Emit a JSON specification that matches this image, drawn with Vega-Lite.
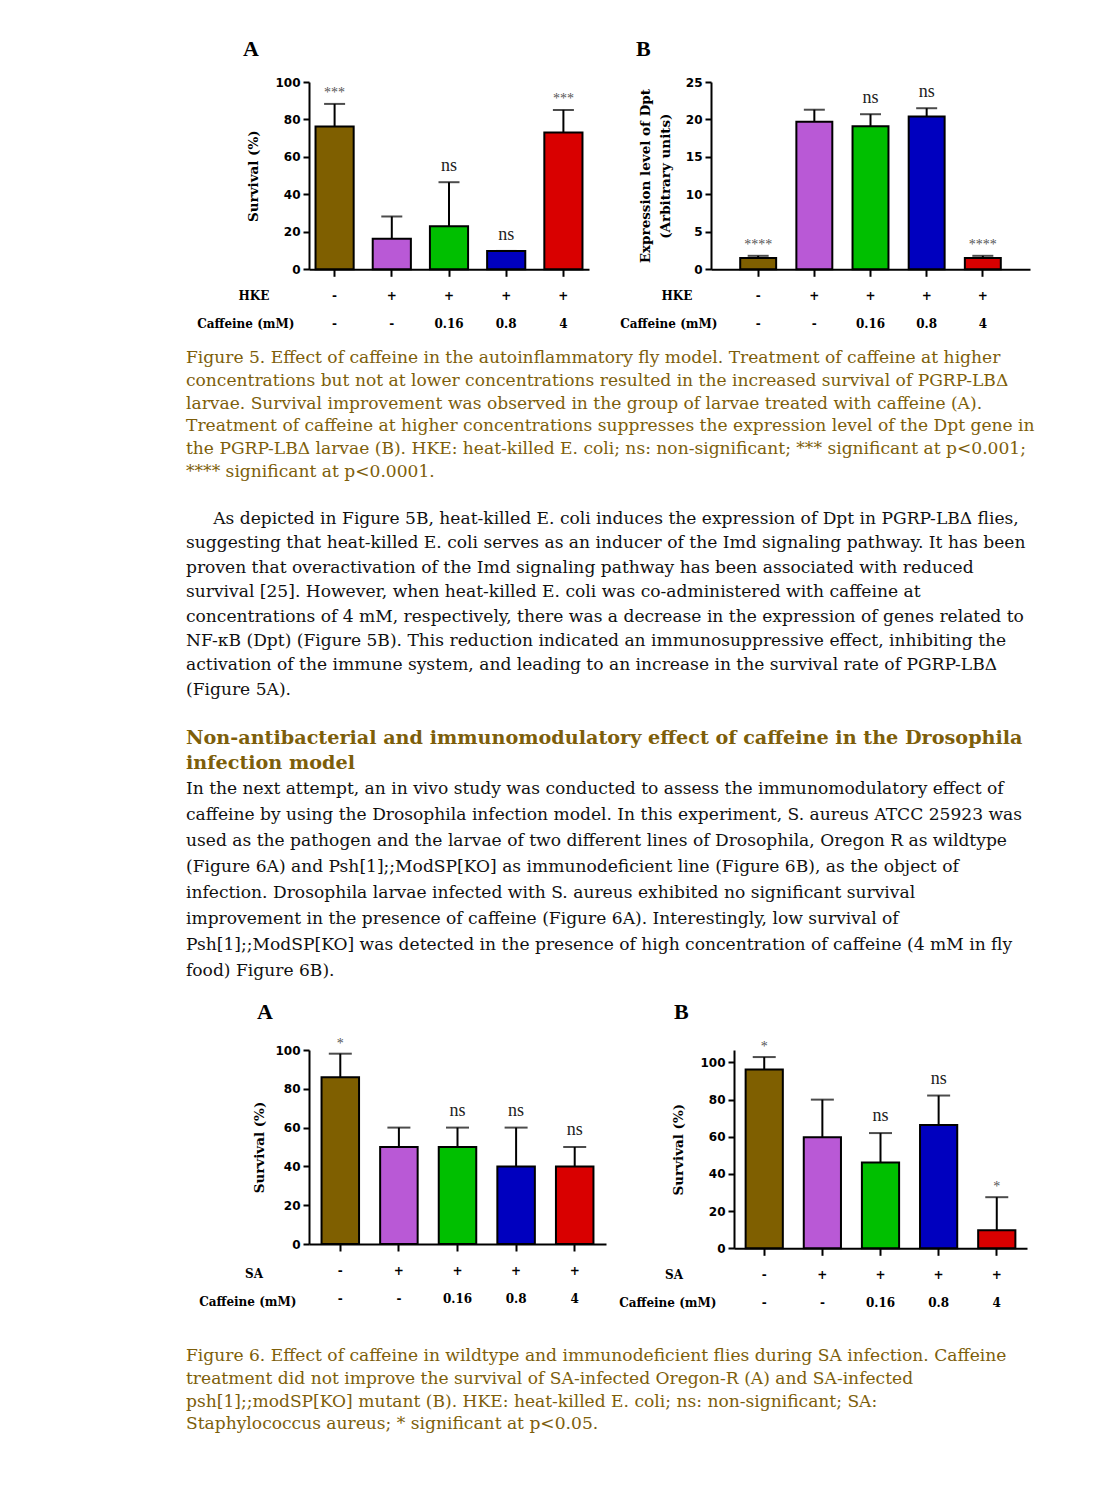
{
"$schema": "https://vega.github.io/schema/vega-lite/v6.json",
"background": "white",
"padding": {"left": 185, "top": 38, "right": 10, "bottom": 10},
"config": {
 "view": {"stroke": null},
 "axis": {"domainColor": "#000", "domainWidth": 2, "tickColor": "#000", "tickWidth": 2, "grid": false, "labelColor": "#000", "titleColor": "#000"},
 "axisX": {"labelAngle": 0, "labelFont": "DejaVu Serif", "labelFontWeight": "bold", "labelFontSize": 12, "labelLineHeight": 28, "labelBaseline": "top", "labelPadding": 14, "tickSize": 7, "labelOverlap": false, "titleAlign": "right", "titleBaseline": "top", "titleAngle": 0, "titleLineHeight": 28, "titleFont": "DejaVu Serif", "titleFontSize": 12, "titleFontWeight": "bold"},
 "axisY": {"labelFont": "DejaVu Sans", "labelFontWeight": "bold", "labelFontSize": 12, "tickSize": 6, "labelPadding": 3, "labelOverlap": false, "titleFont": "DejaVu Serif", "titleFontSize": 13.5, "titleFontWeight": "bold"}
},
"datasets": {
 "f5a": [
  {"grp": "-|-", "mean": 76.3, "upper": 88.3, "sig": "***"},
  {"grp": "+|-", "mean": 16.3, "upper": 28.2, "sig": ""},
  {"grp": "+|0.16", "mean": 23.0, "upper": 46.5, "sig": "ns"},
  {"grp": "+|0.8", "mean": 9.8, "upper": 9.8, "sig": "ns"},
  {"grp": "+|4", "mean": 73.0, "upper": 85.1, "sig": "***"}
 ],
 "f5b": [
  {"grp": "-|-", "mean": 1.5, "upper": 1.8, "sig": "****"},
  {"grp": "+|-", "mean": 19.7, "upper": 21.3, "sig": ""},
  {"grp": "+|0.16", "mean": 19.1, "upper": 20.7, "sig": "ns"},
  {"grp": "+|0.8", "mean": 20.4, "upper": 21.5, "sig": "ns"},
  {"grp": "+|4", "mean": 1.5, "upper": 1.8, "sig": "****"}
 ],
 "f6a": [
  {"grp": "-|-", "mean": 86.0, "upper": 98.1, "sig": "*"},
  {"grp": "+|-", "mean": 50.0, "upper": 60.0, "sig": ""},
  {"grp": "+|0.16", "mean": 50.0, "upper": 60.0, "sig": "ns"},
  {"grp": "+|0.8", "mean": 40.0, "upper": 60.0, "sig": "ns"},
  {"grp": "+|4", "mean": 40.0, "upper": 50.0, "sig": "ns"}
 ],
 "f6b": [
  {"grp": "-|-", "mean": 96.2, "upper": 102.9, "sig": "*"},
  {"grp": "+|-", "mean": 59.7, "upper": 80.0, "sig": ""},
  {"grp": "+|0.16", "mean": 46.2, "upper": 62.0, "sig": "ns"},
  {"grp": "+|0.8", "mean": 66.4, "upper": 82.2, "sig": "ns"},
  {"grp": "+|4", "mean": 9.7, "upper": 27.5, "sig": "*"}
 ],
 "cap5": [
  {"line": 1, "t": "Figure 5. Effect of caffeine in the autoinflammatory fly model. Treatment of caffeine at higher"},
  {"line": 2, "t": "concentrations but not at lower concentrations resulted in the increased survival of PGRP-LBΔ"},
  {"line": 3, "t": "larvae. Survival improvement was observed in the group of larvae treated with caffeine (A)."},
  {"line": 4, "t": "Treatment of caffeine at higher concentrations suppresses the expression level of the Dpt gene in"},
  {"line": 5, "t": "the PGRP-LBΔ larvae (B). HKE: heat-killed E. coli; ns: non-significant; *** significant at p<0.001;"},
  {"line": 6, "t": "**** significant at p<0.0001."}
 ],
 "p1": [
  {"line": 1, "t": "\u200d\u00a0\u00a0\u00a0\u00a0\u00a0As depicted in Figure 5B, heat-killed E. coli induces the expression of Dpt in PGRP-LBΔ flies,"},
  {"line": 2, "t": "suggesting that heat-killed E. coli serves as an inducer of the Imd signaling pathway. It has been"},
  {"line": 3, "t": "proven that overactivation of the Imd signaling pathway has been associated with reduced"},
  {"line": 4, "t": "survival [25]. However, when heat-killed E. coli was co-administered with caffeine at"},
  {"line": 5, "t": "concentrations of 4 mM, respectively, there was a decrease in the expression of genes related to"},
  {"line": 6, "t": "NF-κB (Dpt) (Figure 5B). This reduction indicated an immunosuppressive effect, inhibiting the"},
  {"line": 7, "t": "activation of the immune system, and leading to an increase in the survival rate of PGRP-LBΔ"},
  {"line": 8, "t": "(Figure 5A)."}
 ],
 "hp2": [
  {"line": 1, "kind": "heading", "t": "Non-antibacterial and immunomodulatory effect of caffeine in the Drosophila"},
  {"line": 2, "kind": "heading", "t": "infection model"},
  {"line": 3, "kind": "body", "t": "In the next attempt, an in vivo study was conducted to assess the immunomodulatory effect of"},
  {"line": 4, "kind": "body", "t": "caffeine by using the Drosophila infection model. In this experiment, S. aureus ATCC 25923 was"},
  {"line": 5, "kind": "body", "t": "used as the pathogen and the larvae of two different lines of Drosophila, Oregon R as wildtype"},
  {"line": 6, "kind": "body", "t": "(Figure 6A) and Psh[1];;ModSP[KO] as immunodeficient line (Figure 6B), as the object of"},
  {"line": 7, "kind": "body", "t": "infection. Drosophila larvae infected with S. aureus exhibited no significant survival"},
  {"line": 8, "kind": "body", "t": "improvement in the presence of caffeine (Figure 6A). Interestingly, low survival of"},
  {"line": 9, "kind": "body", "t": "Psh[1];;ModSP[KO] was detected in the presence of high concentration of caffeine (4 mM in fly"},
  {"line": 10, "kind": "body", "t": "food) Figure 6B)."}
 ],
 "cap6": [
  {"line": 1, "t": "Figure 6. Effect of caffeine in wildtype and immunodeficient flies during SA infection. Caffeine"},
  {"line": 2, "t": "treatment did not improve the survival of SA-infected Oregon-R (A) and SA-infected"},
  {"line": 3, "t": "psh[1];;modSP[KO] mutant (B). HKE: heat-killed E. coli; ns: non-significant; SA:"},
  {"line": 4, "t": "Staphylococcus aureus; * significant at p<0.05."}
 ]
},
"vconcat": [
 {"hconcat": [
  {"width": 280, "height": 187.3,
   "title": {"text": "A", "anchor": "start", "frame": "group", "dx": -66, "offset": -2, "baseline": "alphabetic", "font": "Liberation Serif", "fontSize": 22, "fontWeight": "bold", "color": "#000"},
   "data": {"name": "f5a"},
   "encoding": {"x": {"field": "grp", "type": "nominal", "scale": {"domain": ["-|-", "+|-", "+|0.16", "+|0.8", "+|4"], "paddingInner": 0.333, "paddingOuter": 0.114},
     "axis": {"labelExpr": "split(datum.label, '|')", "title": ["HKE\u00a0\u00a0\u00a0\u00a0\u00a0\u00a0\u200d", "Caffeine (mM)"], "titleX": -15, "titleY": 21}}},
   "layer": [
    {"mark": {"type": "bar", "stroke": "#000", "strokeWidth": 2},
     "encoding": {"y": {"field": "mean", "type": "quantitative", "scale": {"domain": [0, 100], "nice": false}, "axis": {"values": [0, 20, 40, 60, 80, 100], "title": "Survival (%)", "titlePadding": 14}},
      "color": {"field": "grp", "type": "nominal", "scale": {"domain": ["-|-", "+|-", "+|0.16", "+|0.8", "+|4"], "range": ["#7f5f00", "#b959d6", "#00bf00", "#0000bf", "#d90000"]}, "legend": null}}},
    {"mark": {"type": "rule", "strokeWidth": 2, "color": "#000"}, "encoding": {"y": {"field": "mean", "type": "quantitative", "axis": {"values": [0, 20, 40, 60, 80, 100], "title": "Survival (%)", "titlePadding": 14}}, "y2": {"field": "upper"}}},
    {"mark": {"type": "tick", "size": 21, "thickness": 2, "color": "#000"}, "encoding": {"y": {"field": "upper", "type": "quantitative", "axis": {"values": [0, 20, 40, 60, 80, 100], "title": "Survival (%)", "titlePadding": 14}}}},
    {"transform": [{"filter": "datum.sig == 'ns'"}], "mark": {"type": "text", "baseline": "alphabetic", "dy": -11, "font": "Liberation Serif", "fontSize": 18, "color": "#222"}, "encoding": {"y": {"field": "upper", "type": "quantitative", "axis": {"values": [0, 20, 40, 60, 80, 100], "title": "Survival (%)", "titlePadding": 14}}, "text": {"field": "sig"}}},
    {"transform": [{"filter": "indexof(datum.sig, '*') >= 0"}], "mark": {"type": "text", "baseline": "alphabetic", "dy": -7, "font": "Liberation Serif", "fontSize": 14, "color": "#555"}, "encoding": {"y": {"field": "upper", "type": "quantitative", "axis": {"values": [0, 20, 40, 60, 80, 100], "title": "Survival (%)", "titlePadding": 14}}, "text": {"field": "sig"}}}
   ]},
  {"width": 319, "height": 187.3,
   "title": {"text": "B", "anchor": "start", "frame": "group", "dx": -75, "offset": -2, "baseline": "alphabetic", "font": "Liberation Serif", "fontSize": 22, "fontWeight": "bold", "color": "#000"},
   "data": {"name": "f5b"},
   "encoding": {"x": {"field": "grp", "type": "nominal", "scale": {"domain": ["-|-", "+|-", "+|0.16", "+|0.8", "+|4"], "paddingInner": 0.36, "paddingOuter": 0.52},
     "axis": {"labelExpr": "split(datum.label, '|')", "title": ["HKE\u00a0\u00a0\u00a0\u00a0\u00a0\u00a0\u200d", "Caffeine (mM)"], "titleX": 6, "titleY": 21}}},
   "layer": [
    {"mark": {"type": "bar", "stroke": "#000", "strokeWidth": 2},
     "encoding": {"y": {"field": "mean", "type": "quantitative", "scale": {"domain": [0, 25], "nice": false}, "axis": {"values": [0, 5, 10, 15, 20, 25], "title": ["Expression level of Dpt", "(Arbitrary units)"], "titlePadding": 13, "titleLineHeight": 20}},
      "color": {"field": "grp", "type": "nominal", "scale": {"domain": ["-|-", "+|-", "+|0.16", "+|0.8", "+|4"], "range": ["#7f5f00", "#b959d6", "#00bf00", "#0000bf", "#d90000"]}, "legend": null}}},
    {"mark": {"type": "rule", "strokeWidth": 2, "color": "#000"}, "encoding": {"y": {"field": "mean", "type": "quantitative", "axis": {"values": [0, 5, 10, 15, 20, 25], "title": ["Expression level of Dpt", "(Arbitrary units)"], "titlePadding": 13, "titleLineHeight": 20}}, "y2": {"field": "upper"}}},
    {"mark": {"type": "tick", "size": 21, "thickness": 2, "color": "#000"}, "encoding": {"y": {"field": "upper", "type": "quantitative", "axis": {"values": [0, 5, 10, 15, 20, 25], "title": ["Expression level of Dpt", "(Arbitrary units)"], "titlePadding": 13, "titleLineHeight": 20}}}},
    {"transform": [{"filter": "datum.sig == 'ns'"}], "mark": {"type": "text", "baseline": "alphabetic", "dy": -11, "font": "Liberation Serif", "fontSize": 18, "color": "#222"}, "encoding": {"y": {"field": "upper", "type": "quantitative", "axis": {"values": [0, 5, 10, 15, 20, 25], "title": ["Expression level of Dpt", "(Arbitrary units)"], "titlePadding": 13, "titleLineHeight": 20}}, "text": {"field": "sig"}}},
    {"transform": [{"filter": "indexof(datum.sig, '*') >= 0"}], "mark": {"type": "text", "baseline": "alphabetic", "dy": -7, "font": "Liberation Serif", "fontSize": 14, "color": "#555"}, "encoding": {"y": {"field": "upper", "type": "quantitative", "axis": {"values": [0, 5, 10, 15, 20, 25], "title": ["Expression level of Dpt", "(Arbitrary units)"], "titlePadding": 13, "titleLineHeight": 20}}, "text": {"field": "sig"}}}
   ]}
 ], "spacing": 30},
 {"width": 859, "height": 174, "data": {"name": "cap5"},
  "mark": {"type": "text", "align": "left", "baseline": "middle", "font": "DejaVu Serif", "fontSize": 17.1, "color": "#7d5e0a"},
  "encoding": {"x": {"datum": 0, "type": "quantitative", "scale": {"domain": [0.1432, 1.1432]}, "axis": null},
   "y": {"field": "line", "type": "quantitative", "scale": {"domain": [-0.2281, 7.4035], "reverse": true, "nice": false, "zero": false}, "axis": null},
   "text": {"field": "t"}}},
 {"width": 859, "height": 205, "data": {"name": "p1"},
  "mark": {"type": "text", "align": "left", "baseline": "middle", "font": "DejaVu Serif", "fontSize": 17.1, "color": "#111"},
  "encoding": {"x": {"datum": 0, "type": "quantitative", "scale": {"domain": [0.1432, 1.1432]}, "axis": null},
   "y": {"field": "line", "type": "quantitative", "scale": {"domain": [0.3852, 8.7868], "reverse": true, "nice": false, "zero": false}, "axis": null},
   "text": {"field": "t"}}},
 {"width": 859, "height": 292, "data": {"name": "hp2"},
  "encoding": {"x": {"datum": 0, "type": "quantitative", "scale": {"domain": [0.1432, 1.1432]}, "axis": null},
   "y": {"field": "line", "type": "quantitative", "scale": {"domain": [-0.1004, 11.1737], "reverse": true, "nice": false, "zero": false}, "axis": null},
   "text": {"field": "t"}},
  "layer": [
   {"transform": [{"filter": "datum.kind == 'heading'"}], "mark": {"type": "text", "align": "left", "baseline": "middle", "font": "DejaVu Serif", "fontSize": 19.2, "fontWeight": "bold", "color": "#7d5e0a"}},
   {"transform": [{"filter": "datum.kind == 'body'"}], "mark": {"type": "text", "align": "left", "baseline": "middle", "font": "DejaVu Serif", "fontSize": 17.1, "color": "#111"}}
  ]},
 {"hconcat": [
  {"width": 297, "height": 194,
   "title": {"text": "A", "anchor": "start", "frame": "group", "dx": -52, "offset": -4.4, "baseline": "alphabetic", "font": "Liberation Serif", "fontSize": 22, "fontWeight": "bold", "color": "#000"},
   "data": {"name": "f6a"},
   "encoding": {"x": {"field": "grp", "type": "nominal", "scale": {"domain": ["-|-", "+|-", "+|0.16", "+|0.8", "+|4"], "paddingInner": 0.36, "paddingOuter": 0.214},
     "axis": {"labelExpr": "split(datum.label, '|')", "title": ["SA\u00a0\u00a0\u00a0\u00a0\u00a0\u00a0\u00a0\u00a0\u200d", "Caffeine (mM)"], "titleX": -13, "titleY": 24}}},
   "layer": [
    {"mark": {"type": "bar", "stroke": "#000", "strokeWidth": 2},
     "encoding": {"y": {"field": "mean", "type": "quantitative", "scale": {"domain": [0, 100], "nice": false}, "axis": {"values": [0, 20, 40, 60, 80, 100], "title": "Survival (%)", "titlePadding": 8}},
      "color": {"field": "grp", "type": "nominal", "scale": {"domain": ["-|-", "+|-", "+|0.16", "+|0.8", "+|4"], "range": ["#7f5f00", "#b959d6", "#00bf00", "#0000bf", "#d90000"]}, "legend": null}}},
    {"mark": {"type": "rule", "strokeWidth": 2, "color": "#000"}, "encoding": {"y": {"field": "mean", "type": "quantitative", "axis": {"values": [0, 20, 40, 60, 80, 100], "title": "Survival (%)", "titlePadding": 8}}, "y2": {"field": "upper"}}},
    {"mark": {"type": "tick", "size": 23, "thickness": 2, "color": "#000"}, "encoding": {"y": {"field": "upper", "type": "quantitative", "axis": {"values": [0, 20, 40, 60, 80, 100], "title": "Survival (%)", "titlePadding": 8}}}},
    {"transform": [{"filter": "datum.sig == 'ns'"}], "mark": {"type": "text", "baseline": "alphabetic", "dy": -12, "font": "Liberation Serif", "fontSize": 18, "color": "#222"}, "encoding": {"y": {"field": "upper", "type": "quantitative", "axis": {"values": [0, 20, 40, 60, 80, 100], "title": "Survival (%)", "titlePadding": 8}}, "text": {"field": "sig"}}},
    {"transform": [{"filter": "indexof(datum.sig, '*') >= 0"}], "mark": {"type": "text", "baseline": "alphabetic", "dy": -6, "font": "Liberation Serif", "fontSize": 14, "color": "#555"}, "encoding": {"y": {"field": "upper", "type": "quantitative", "axis": {"values": [0, 20, 40, 60, 80, 100], "title": "Survival (%)", "titlePadding": 8}}, "text": {"field": "sig"}}}
   ]},
  {"width": 293, "height": 198.3,
   "title": {"text": "B", "anchor": "start", "frame": "group", "dx": -60, "offset": -1.2, "baseline": "alphabetic", "font": "Liberation Serif", "fontSize": 22, "fontWeight": "bold", "color": "#000"},
   "data": {"name": "f6b"},
   "encoding": {"x": {"field": "grp", "type": "nominal", "scale": {"domain": ["-|-", "+|-", "+|0.16", "+|0.8", "+|4"], "paddingInner": 0.36, "paddingOuter": 0.2},
     "axis": {"labelExpr": "split(datum.label, '|')", "title": ["SA\u00a0\u00a0\u00a0\u00a0\u00a0\u00a0\u00a0\u00a0\u200d", "Caffeine (mM)"], "titleX": -18, "titleY": 21}}},
   "layer": [
    {"mark": {"type": "bar", "stroke": "#000", "strokeWidth": 2},
     "encoding": {"y": {"field": "mean", "type": "quantitative", "scale": {"domain": [0, 106.7], "nice": false}, "axis": {"values": [0, 20, 40, 60, 80, 100], "title": "Survival (%)", "titlePadding": 14}},
      "color": {"field": "grp", "type": "nominal", "scale": {"domain": ["-|-", "+|-", "+|0.16", "+|0.8", "+|4"], "range": ["#7f5f00", "#b959d6", "#00bf00", "#0000bf", "#d90000"]}, "legend": null}}},
    {"mark": {"type": "rule", "strokeWidth": 2, "color": "#000"}, "encoding": {"y": {"field": "mean", "type": "quantitative", "axis": {"values": [0, 20, 40, 60, 80, 100], "title": "Survival (%)", "titlePadding": 14}}, "y2": {"field": "upper"}}},
    {"mark": {"type": "tick", "size": 23, "thickness": 2, "color": "#000"}, "encoding": {"y": {"field": "upper", "type": "quantitative", "axis": {"values": [0, 20, 40, 60, 80, 100], "title": "Survival (%)", "titlePadding": 14}}}},
    {"transform": [{"filter": "datum.sig == 'ns'"}], "mark": {"type": "text", "baseline": "alphabetic", "dy": -12, "font": "Liberation Serif", "fontSize": 18, "color": "#222"}, "encoding": {"y": {"field": "upper", "type": "quantitative", "axis": {"values": [0, 20, 40, 60, 80, 100], "title": "Survival (%)", "titlePadding": 14}}, "text": {"field": "sig"}}},
    {"transform": [{"filter": "indexof(datum.sig, '*') >= 0"}], "mark": {"type": "text", "baseline": "alphabetic", "dy": -6, "font": "Liberation Serif", "fontSize": 14, "color": "#555"}, "encoding": {"y": {"field": "upper", "type": "quantitative", "axis": {"values": [0, 20, 40, 60, 80, 100], "title": "Survival (%)", "titlePadding": 14}}, "text": {"field": "sig"}}}
   ]}
 ], "spacing": 12},
 {"width": 859, "height": 131, "data": {"name": "cap6"},
  "mark": {"type": "text", "align": "left", "baseline": "middle", "font": "DejaVu Serif", "fontSize": 17.1, "color": "#7d5e0a"},
  "encoding": {"x": {"datum": 0, "type": "quantitative", "scale": {"domain": [0.1432, 1.1432]}, "axis": null},
   "y": {"field": "line", "type": "quantitative", "scale": {"domain": [-1.0837, 4.6872], "reverse": true, "nice": false, "zero": false}, "axis": null},
   "text": {"field": "t"}}}
],
"spacing": 0
}
